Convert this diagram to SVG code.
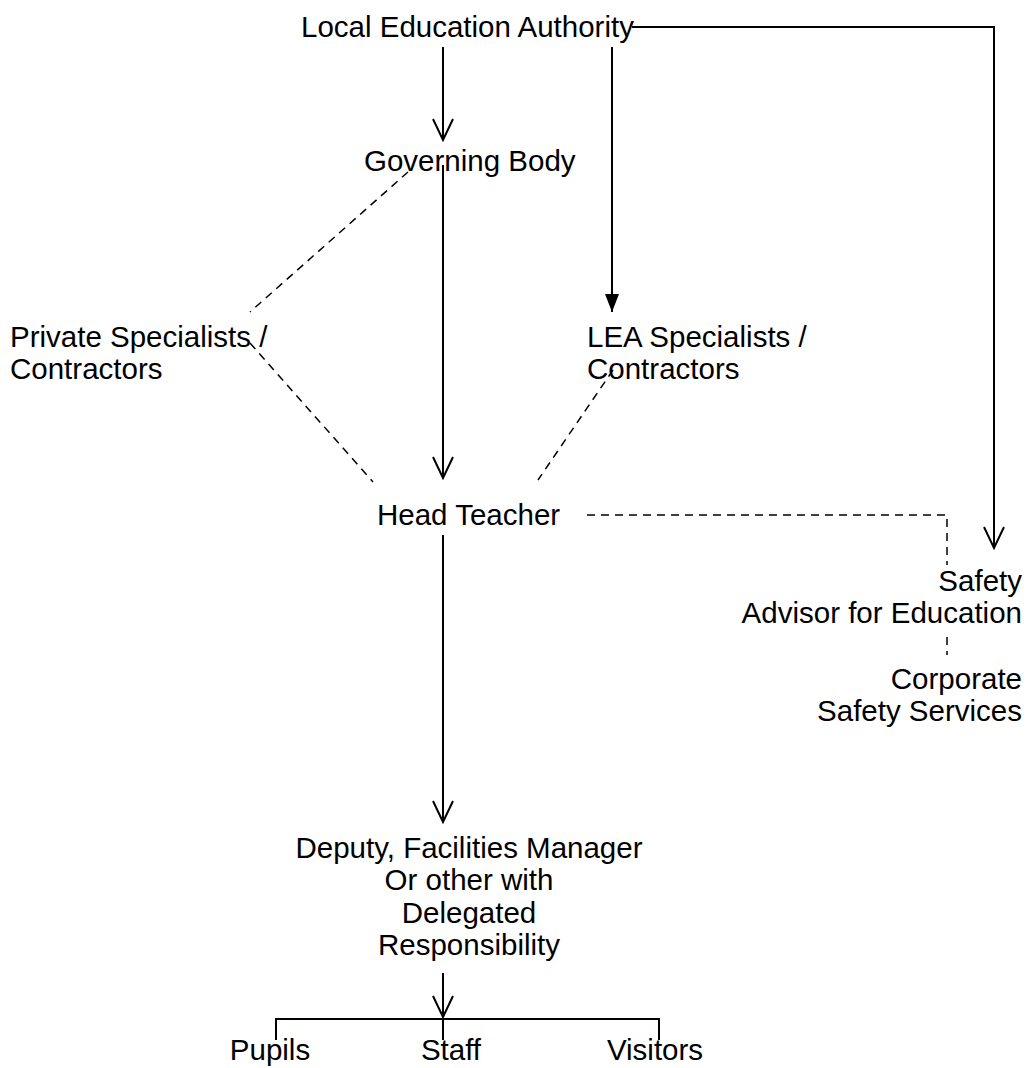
<svg xmlns="http://www.w3.org/2000/svg" width="1031" height="1068" viewBox="0 0 1031 1068">
<style>
text{font-family:"Liberation Sans",Arial,sans-serif;font-size:29.5px;fill:#000}
.ln{fill:none;stroke:#000;stroke-width:2}
.ds{fill:none;stroke:#000;stroke-width:1.5;stroke-dasharray:8 6}
.c{text-anchor:middle}
.r{text-anchor:end}
</style>
<defs>
<marker id="open" viewBox="0 0 24 24" refX="22" refY="12" markerWidth="24" markerHeight="24" markerUnits="userSpaceOnUse" orient="auto">
<path d="M1,2 L22,12 L1,22" fill="none" stroke="#000" stroke-width="2"/>
</marker>
<marker id="fill" viewBox="0 0 18 14" refX="18" refY="7" markerWidth="18" markerHeight="14" markerUnits="userSpaceOnUse" orient="auto">
<path d="M0,0 L18,7 L0,14 Z" fill="#000"/>
</marker>
</defs>
<g id="connectors">
<path class="ln" d="M443,47 V140" marker-end="url(#open)"/>
<path class="ln" d="M612,47 V312" marker-end="url(#fill)"/>
<path class="ln" d="M632,27 H994 V548" marker-end="url(#open)"/>
<path class="ln" d="M443,165 V478" marker-end="url(#open)"/>
<path class="ln" d="M443,535 V822" marker-end="url(#open)"/>
<path class="ln" d="M443,973 V1017" marker-end="url(#open)"/>
<path class="ln" d="M276,1040 V1019 H659 V1040 M443,1019 V1040"/>
<path class="ds" d="M408,172 L250,312"/>
<path class="ds" d="M250,343 L373,482"/>
<path class="ds" d="M613,370 L538,480"/>
<path class="ds" d="M587,515 H947 V565"/>
<path class="ds" d="M947,637 V655"/>
</g>
<g id="lea"><text x="301" y="37">Local Education Authority</text></g>
<g id="governing-body"><text x="364" y="171">Governing Body</text></g>
<g id="private-specialists"><text x="10" y="347">Private Specialists /</text><text x="10" y="379">Contractors</text></g>
<g id="lea-specialists"><text x="587" y="347">LEA Specialists /</text><text x="587" y="379">Contractors</text></g>
<g id="head-teacher"><text x="377" y="525">Head Teacher</text></g>
<g id="safety-advisor"><text class="r" x="1022" y="591">Safety</text><text class="r" x="1022" y="623">Advisor for Education</text></g>
<g id="corporate-safety"><text class="r" x="1022" y="689">Corporate</text><text class="r" x="1022" y="721">Safety Services</text></g>
<g id="deputy"><text class="c" x="469" y="858">Deputy, Facilities Manager</text><text class="c" x="469" y="890">Or other with</text><text class="c" x="469" y="923">Delegated</text><text class="c" x="469" y="955">Responsibility</text></g>
<g id="pupils"><text class="c" x="270" y="1060">Pupils</text></g>
<g id="staff"><text class="c" x="451" y="1060">Staff</text></g>
<g id="visitors"><text class="c" x="655" y="1060">Visitors</text></g>
</svg>
